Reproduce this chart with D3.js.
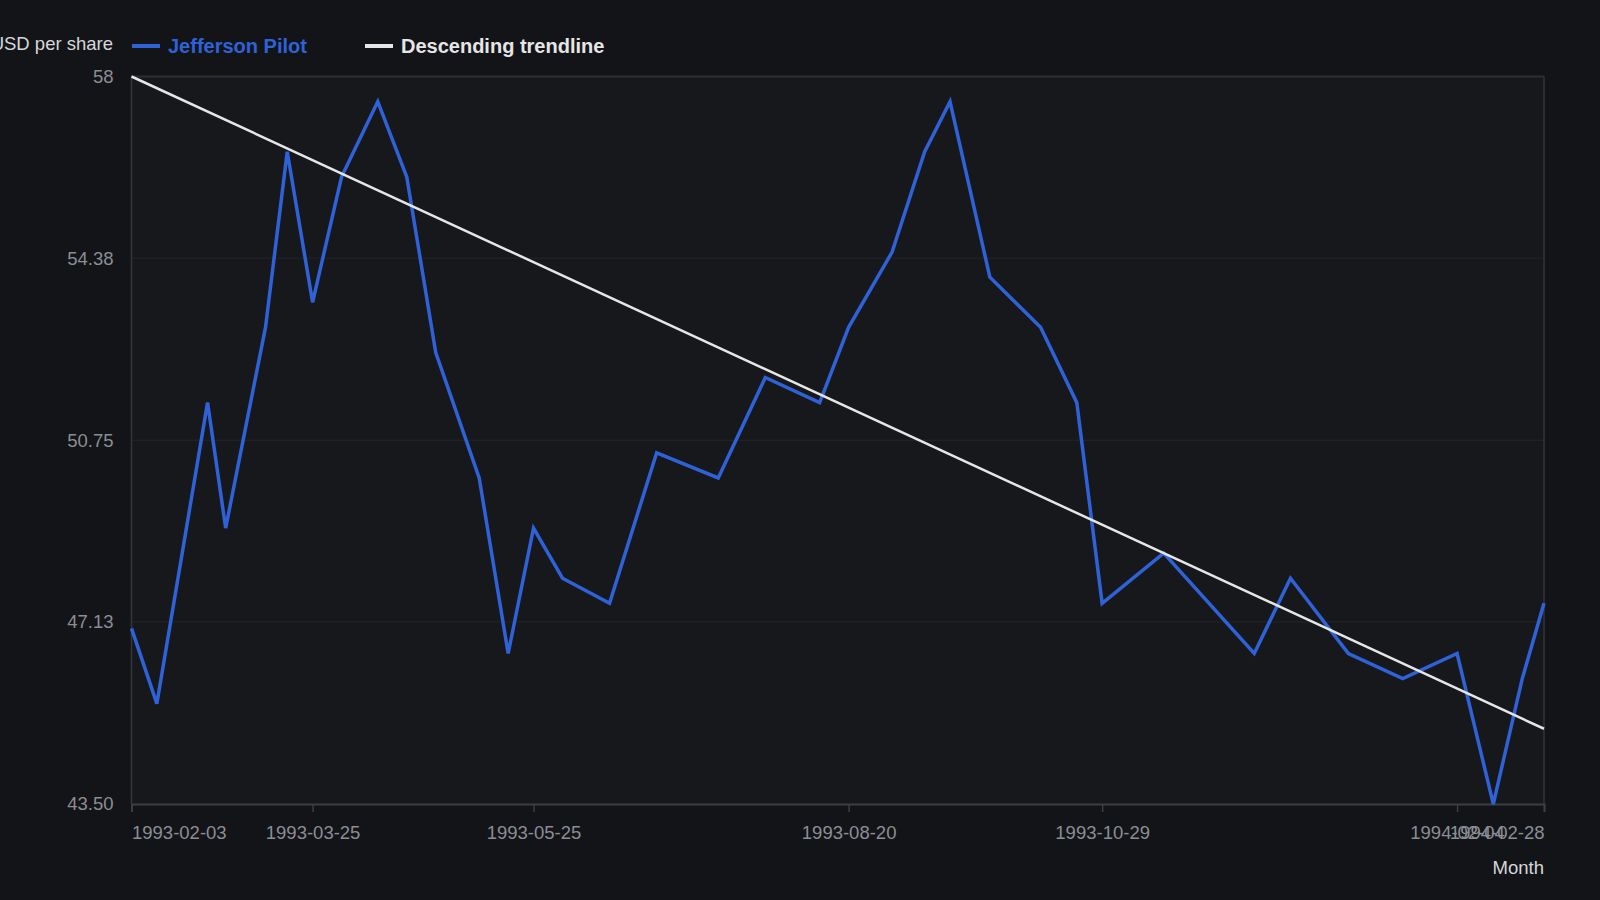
<!DOCTYPE html>
<html>
<head>
<meta charset="utf-8">
<script src="https://cdn.jsdelivr.net/npm/d3@7"></script>
<style>
  html, body { margin: 0; padding: 0; background: #131418; }
  svg { display: block; font-family: "Liberation Sans", Arial, sans-serif; }
</style>
</head>
<body>
<script>
var dates = ["1993-02-03", "1993-02-10", "1993-02-24", "1993-03-01", "1993-03-12", "1993-03-18",
  "1993-03-25", "1993-04-02", "1993-04-12", "1993-04-20", "1993-04-28", "1993-05-10",
  "1993-05-18", "1993-05-25", "1993-06-02", "1993-06-15", "1993-06-28", "1993-07-15",
  "1993-07-28", "1993-08-12", "1993-08-20", "1993-09-01", "1993-09-10", "1993-09-17",
  "1993-09-28", "1993-10-12", "1993-10-22", "1993-10-29", "1993-11-15", "1993-12-10",
  "1993-12-20", "1994-01-05", "1994-01-20", "1994-02-04", "1994-02-14", "1994-02-22",
  "1994-02-28"];

var prices = [47, 45.5, 51.5, 49, 53, 56.5, 53.5, 56, 57.5, 56, 52.5, 50,
  46.5, 49, 48, 47.5, 50.5, 50, 52, 51.5, 53, 54.5, 56.5, 57.5,
  54, 53, 51.5, 47.5, 48.5, 46.5, 48, 46.5, 46, 46.5, 43.5, 46, 47.5];

// trendline end points
var trendDates = ["1993-02-03", "1994-02-28"];
var trendValues = [58, 45];

var xTicks = ["1993-02-03", "1993-03-25", "1993-05-25", "1993-08-20", "1993-10-29", "1994-02-04", "1994-02-28"];
var yTicks = [43.5, 47.13, 50.75, 54.38, 58];

var width = 1600,
    height = 900,
    margin = {top: 76.5, right: 56, bottom: 96, left: 131.5};

var parse = d3.timeParse("%Y-%m-%d");

var svg = d3.select("body").append("svg")
    .attr("width", width)
    .attr("height", height);

var x = d3.scaleTime()
    .domain([parse(dates[0]), parse(dates[dates.length - 1])])
    .range([margin.left, width - margin.right]);

var y = d3.scaleLinear()
    .domain([43.5, 58])
    .range([height - margin.bottom, margin.top]);

// plot background
svg.append("rect")
    .attr("x", x.range()[0])
    .attr("y", y.range()[1])
    .attr("width", x.range()[1] - x.range()[0])
    .attr("height", y.range()[0] - y.range()[1])
    .attr("fill", "#17181c");

// horizontal grid
svg.append("g")
  .selectAll("line")
  .data(yTicks.slice(1))
  .enter().append("line")
    .attr("x1", x.range()[0])
    .attr("x2", x.range()[1])
    .attr("y1", function(d){ return y(d); })
    .attr("y2", function(d){ return y(d); })
    .attr("stroke", function(d, i){ return i == yTicks.length - 2 ? "#2c2e33" : "#23252a"; })
    .attr("stroke-width", function(d, i){ return i == yTicks.length - 2 ? 2 : 1; });

// right border
svg.append("line")
    .attr("x1", x.range()[1]).attr("x2", x.range()[1])
    .attr("y1", y.range()[0]).attr("y2", y.range()[1])
    .attr("stroke", "#2a2c31")
    .attr("stroke-width", 2);

// y axis line
svg.append("line")
    .attr("x1", x.range()[0]).attr("x2", x.range()[0])
    .attr("y1", y.range()[0]).attr("y2", y.range()[1])
    .attr("stroke", "#34363b")
    .attr("stroke-width", 1.5);

// y tick labels
var yAxis = d3.axisLeft(y)
    .tickValues(yTicks)
    .tickSize(0)
    .tickPadding(18)
    .tickFormat(function(d){ return d == 58 ? "58" : d3.format(".2f")(d); });

svg.append("g")
    .attr("transform", "translate(" + margin.left + ",0)")
    .call(yAxis)
    .call(function(g){ g.select(".domain").remove(); })
    .selectAll("text")
    .attr("fill", "#8b8e94")
    .attr("font-size", 18.5)
    .attr("font-family", "Liberation Sans, Arial, sans-serif");

// x axis
var xAxis = d3.axisBottom(x)
    .tickValues(xTicks.map(parse))
    .tickSize(8)
    .tickPadding(14)
    .tickFormat(d3.timeFormat("%Y-%m-%d"));

var gx = svg.append("g")
    .attr("transform", "translate(0," + y.range()[0] + ")")
    .call(xAxis);

gx.select(".domain").attr("stroke", "#3c3e43").attr("stroke-width", 2);
gx.selectAll(".tick line").attr("stroke", "#3c3e43").attr("stroke-width", 1.5);
gx.selectAll("text")
    .attr("fill", "#8b8e94")
    .attr("font-size", 18.5)
    .attr("font-family", "Liberation Sans, Arial, sans-serif")
    .attr("text-anchor", function(d, i){
      if (i == 0) return "start";
      if (i == xTicks.length - 1) return "end";
      return "middle";
    });

// axis titles
svg.append("text")
    .attr("x", 113)
    .attr("y", 50)
    .attr("text-anchor", "end")
    .attr("fill", "#d6d7da")
    .attr("font-size", 18.5)
    .text("USD per share");

svg.append("text")
    .attr("x", x.range()[1])
    .attr("y", 874)
    .attr("text-anchor", "end")
    .attr("fill", "#d6d7da")
    .attr("font-size", 18.5)
    .text("Month");

// price line
var series = dates.map(function(d, i){ return {date: parse(d), value: prices[i]}; });

var line = d3.line()
    .x(function(d){ return x(d.date); })
    .y(function(d){ return y(d.value); });

svg.append("path")
    .datum(series)
    .attr("fill", "none")
    .attr("stroke", "#2f62d8")
    .attr("stroke-width", 3.5)
    .attr("stroke-linejoin", "miter")
    .attr("d", line);

// trendline
var trend = trendDates.map(function(d, i){ return {date: parse(d), value: trendValues[i]}; });

svg.append("path")
    .datum(trend)
    .attr("fill", "none")
    .attr("stroke", "#e6e6e6")
    .attr("stroke-width", 2.5)
    .attr("d", line);

// legend
var legend = [
  {name: "Jefferson Pilot", color: "#2f62d8", text: "#2f62d8", x: 132},
  {name: "Descending trendline", color: "#e6e6e6", text: "#e6e6e6", x: 365}
];

var lg = svg.append("g")
  .selectAll("g")
  .data(legend)
  .enter().append("g")
    .attr("transform", function(d){ return "translate(" + d.x + ",46)"; });

lg.append("line")
    .attr("x1", 0).attr("x2", 28)
    .attr("stroke", function(d){ return d.color; })
    .attr("stroke-width", 4);

lg.append("text")
    .attr("x", 36)
    .attr("dy", "0.35em")
    .attr("fill", function(d){ return d.text; })
    .attr("font-size", 20)
    .attr("font-weight", "bold")
    .text(function(d){ return d.name; });
</script>
</body>
</html>
